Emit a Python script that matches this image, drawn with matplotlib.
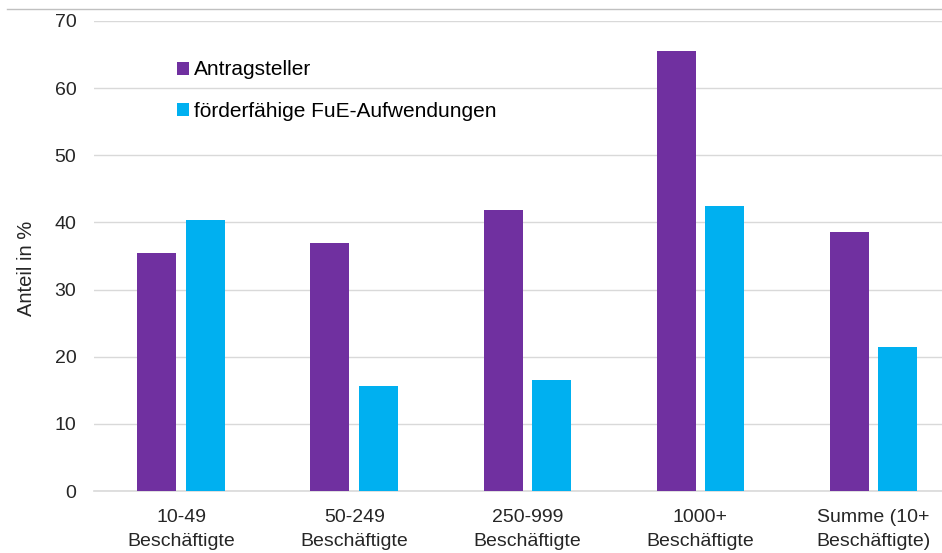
import matplotlib.pyplot as plt
from matplotlib.lines import Line2D
import numpy as np

plt.rcParams['font.family'] = ['Liberation Sans', 'DejaVu Sans']

categories = ['10-49\nBeschäftigte', '50-249\nBeschäftigte', '250-999\nBeschäftigte',
              '1000+\nBeschäftigte', 'Summe (10+\nBeschäftigte)']
antragsteller = [35.4, 37.0, 41.9, 65.6, 38.5]
fue_aufwendungen = [40.3, 15.6, 16.6, 42.4, 21.4]
series_names = ['Antragsteller', 'förderfähige FuE-Aufwendungen']

fig = plt.figure(figsize=(9.42, 5.53), dpi=100)
ax = fig.add_axes([0.1003, 0.1121, 0.919, 0.850])

x = np.arange(len(categories))
w = 0.225
ax.bar(x - 0.14, antragsteller, w, color='#7030A0', label=series_names[0], zorder=3)
ax.bar(x + 0.14, fue_aufwendungen, w, color='#00B0F0', label=series_names[1], zorder=3)

ax.set_xlim(-0.5, len(categories) - 0.5)
ax.set_ylim(0, 70)
ax.set_yticks(range(0, 71, 10))
ax.set_xticks(x)
ax.set_xticklabels(categories, fontsize=14, color='#262626', linespacing=1.5)
ax.tick_params(axis='y', labelsize=14, labelcolor='#262626', length=0, pad=13)
ax.tick_params(axis='x', length=0, pad=13)
ax.grid(axis='y', color='#D9D9D9', linewidth=1, zorder=0)
for s in ['top', 'right', 'left']:
    ax.spines[s].set_visible(False)
ax.spines['bottom'].set_color('#D9D9D9')
ax.spines['bottom'].set_linewidth(1.2)
ax.set_ylabel('Anteil in %', fontsize=14.5, color='#262626')
ax.yaxis.set_label_coords(-0.067, 0.474)

ax.legend(loc='upper left', bbox_to_anchor=(0.0735, 0.956), frameon=False, fontsize=15,
          handlelength=0.58, handleheight=0.58, handletextpad=0.25, labelspacing=1.1)

# thin frame line above the plot
fig.add_artist(Line2D([7 / 942, 1], [1 - 9 / 553, 1 - 9 / 553], color='#C0C0C0', linewidth=1))

fig.savefig('out.png', dpi=100)
